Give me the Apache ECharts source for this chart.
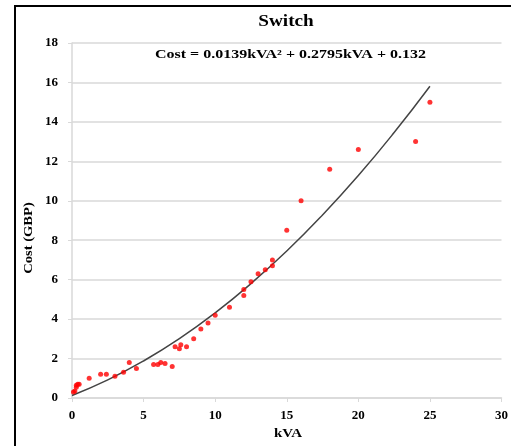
<!DOCTYPE html>
<html>
<head>
    <meta charset="utf-8">
    <title>Switch</title>
    <script src="https://cdn.jsdelivr.net/npm/echarts@6/dist/echarts.min.js"></script>
    <style>
        html, body { margin: 0; padding: 0; background: #fff; }
    </style>
</head>
<body>
<div id="main" style="width: 511px;height:446px;"></div>
<script type="text/javascript">
    // measured points: kVA / cost in GBP
    var kva = [0.1, 0.2, 0.3, 0.3, 0.4, 0.5, 1.2, 2, 2.4, 3, 3.6, 4, 4.5, 5.7, 6, 6.2, 6.5, 7,
               7.2, 7.5, 7.6, 8, 8.5, 9, 9.5, 10, 11, 12, 12, 12.5, 13, 13.5, 14, 14,
               15, 16, 18, 20, 24, 25];
    var cost = [0.3, 0.35, 0.55, 0.65, 0.7, 0.7, 1.0, 1.2, 1.2, 1.1, 1.3, 1.8, 1.5, 1.7, 1.7, 1.8, 1.75, 1.6,
                2.6, 2.5, 2.7, 2.6, 3.0, 3.5, 3.8, 4.2, 4.6, 5.5, 5.2, 5.9, 6.3, 6.5, 7.0, 6.7,
                8.5, 10.0, 11.6, 12.6, 13.0, 15.0];
    // polynomial trendline
    var trendX = [0, 2.5, 5, 7.5, 10, 12.5, 15, 17.5, 20, 22.5, 25];
    var trendY = [0.13, 0.92, 1.88, 3.01, 4.32, 5.80, 7.45, 9.28, 11.28, 13.46, 15.81];

    var chartTitle = 'Switch';
    var equation = 'Cost = 0.0139kVA\u00b2 + 0.2795kVA + 0.132';
    var yName = 'Cost (GBP)';
    var xName = 'kVA';

    var points = kva.map(function (x, i) { return [x, cost[i]]; });
    var trend = trendX.map(function (x, i) { return [x, trendY[i]]; });

    var serif = '"Liberation Serif", "DejaVu Serif", serif';

    var myChart = echarts.init(document.getElementById('main'));
    var option = {
        animation: false,
        backgroundColor: '#ffffff',
        grid: { left: 72, right: 7, top: 43, bottom: 48 },
        graphic: [
            {   // outer frame (only top & left visible)
                type: 'polyline',
                shape: { points: [[15, 446], [15, 6], [511, 6]] },
                style: { stroke: '#000', lineWidth: 2, fill: null }
            },
            {
                type: 'text', x: 286, y: 22, scaleX: 1.2,
                style: { text: chartTitle, fill: '#000', font: 'bold 16px ' + serif,
                         align: 'center', verticalAlign: 'middle',
                         textAlign: 'center', textVerticalAlign: 'middle' }
            },
            {
                type: 'text', x: 155, y: 55, scaleX: 1.23,
                style: { text: equation, fill: '#000', font: 'bold 13px ' + serif,
                         align: 'left', verticalAlign: 'middle',
                         textAlign: 'left', textVerticalAlign: 'middle' }
            },
            {
                type: 'text', x: 29, y: 238, rotation: Math.PI / 2, scaleX: 1.12,
                style: { text: yName, fill: '#000', font: 'bold 13px ' + serif,
                         align: 'center', verticalAlign: 'middle',
                         textAlign: 'center', textVerticalAlign: 'middle' }
            },
            {
                type: 'text', x: 288, y: 434, scaleX: 1.15,
                style: { text: xName, fill: '#000', font: 'bold 13px ' + serif,
                         align: 'center', verticalAlign: 'middle',
                         textAlign: 'center', textVerticalAlign: 'middle' }
            }
        ],
        xAxis: {
            type: 'value',
            min: 0, max: 30, interval: 5,
            axisLine: { show: true, lineStyle: { color: '#d9d9d9', width: 1.5 } },
            axisTick: { show: true, length: 4, lineStyle: { color: '#d9d9d9' } },
            axisLabel: { fontFamily: serif, fontWeight: 'bold', fontSize: 13, color: '#000', margin: 11 },
            splitLine: { show: false }
        },
        yAxis: {
            type: 'value',
            min: 0, max: 18, interval: 2,
            axisLine: { show: true, lineStyle: { color: '#d9d9d9', width: 1.5 } },
            axisTick: { show: true, length: 4, lineStyle: { color: '#d9d9d9' } },
            axisLabel: { fontFamily: serif, fontWeight: 'bold', fontSize: 13, color: '#000', margin: 14 },
            splitLine: { show: true, lineStyle: { color: '#d9d9d9', width: 1.5 } }
        },
        series: [
            {
                type: 'line',
                data: trend,
                smooth: true,
                showSymbol: false,
                lineStyle: { color: '#444', width: 1.5 },
                z: 2
            },
            {
                type: 'scatter',
                data: points,
                symbolSize: 5,
                itemStyle: { color: '#ff0000' },
                z: 3
            }
        ]
    };
    myChart.setOption(option);
</script>
</body>
</html>
